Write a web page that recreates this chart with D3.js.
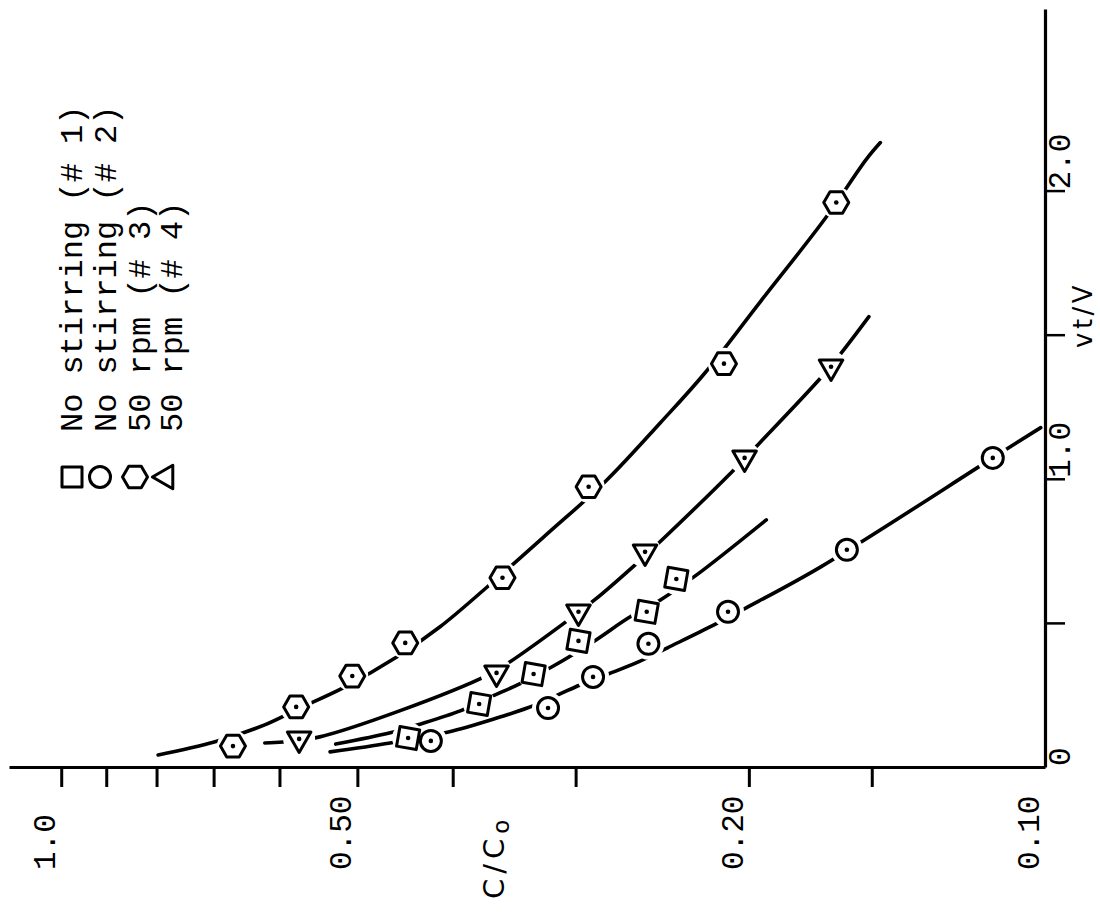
<!DOCTYPE html>
<html>
<head>
<meta charset="utf-8">
<script src="https://cdn.jsdelivr.net/npm/d3@7"></script>
<style>
  html, body { margin: 0; padding: 0; background: #fff; }
  svg { display: block; }
</style>
</head>
<body>
<div id="chart"></div>
<script>
// values: vt/V and C/Co
const seriesNames = ["No stirring (# 1)", "No stirring (# 2)", "50 rpm (# 3)", "50 rpm (# 4)"];

// # 1 no stirring, squares
const sqVt = [0.104, 0.222, 0.326, 0.441, 0.542, 0.656];
const sqC  = [0.444, 0.376, 0.331, 0.298, 0.254, 0.237];
const sqFitVt = [0.083, 0.122, 0.149, 0.198, 0.250, 0.292, 0.354, 0.441, 0.521, 0.583, 0.670, 0.861];
const sqFitC  = [0.526, 0.463, 0.435, 0.393, 0.364, 0.342, 0.316, 0.287, 0.265, 0.246, 0.226, 0.192];

// # 2 no stirring, circles
const ciVt = [0.094, 0.208, 0.316, 0.431, 0.542, 0.757, 1.076];
const ciC  = [0.421, 0.320, 0.288, 0.253, 0.210, 0.159, 0.113];
const ciFitVt = [0.056, 0.087, 0.125, 0.177, 0.208, 0.253, 0.288, 0.326, 0.368, 0.417, 0.493, 0.549, 0.698, 1.076, 1.181];
const ciFitC  = [0.533, 0.463, 0.404, 0.358, 0.336, 0.313, 0.297, 0.278, 0.259, 0.242, 0.218, 0.203, 0.169, 0.113, 0.101];

// # 3 50 rpm, hexagons
const hxVt = [0.076, 0.212, 0.319, 0.434, 0.660, 0.976, 1.403, 1.962];
const hxC  = [0.669, 0.577, 0.506, 0.447, 0.356, 0.291, 0.212, 0.163];
const hxFitVt = [0.045, 0.090, 0.149, 0.208, 0.278, 0.385, 0.490, 0.628, 0.819, 0.993, 1.198, 1.368, 1.615, 1.910, 2.111, 2.170];
const hxFitC  = [0.797, 0.699, 0.622, 0.572, 0.517, 0.456, 0.412, 0.369, 0.319, 0.280, 0.246, 0.222, 0.195, 0.167, 0.152, 0.147];

// # 4 50 rpm, triangles
const trVt = [0.101, 0.330, 0.542, 0.750, 1.076, 1.392];
const trC  = [0.573, 0.361, 0.298, 0.255, 0.202, 0.165];
const trFitVt = [0.087, 0.090, 0.108, 0.198, 0.323, 0.365, 0.514, 0.583, 0.705, 0.792, 1.028, 1.128, 1.354, 1.441, 1.566];
const trFitC  = [0.621, 0.595, 0.546, 0.453, 0.368, 0.351, 0.305, 0.287, 0.261, 0.245, 0.208, 0.195, 0.169, 0.161, 0.151];

// axes
const cTicks = [1.0, 0.9, 0.8, 0.7, 0.6, 0.5, 0.4, 0.3, 0.2, 0.15];
const cLabelValues = [1.0, 0.5, 0.2, 0.1];
const cLabels = ["1.0", "0.50", "0.20", "0.10"];
const vtTicks = [0.5, 1.0, 1.5, 2.0];
const vtLabelValues = [0, 1.0, 2.0];
const vtLabels = ["0", "1.0", "2.0"];

const W = 1100, H = 913;
const mono = "'Liberation Mono', 'Courier New', monospace";
const sans = "'DejaVu Sans', sans-serif";

const svg = d3.select("#chart").append("svg")
  .attr("width", W)
  .attr("height", H);

svg.append("rect").attr("width", W).attr("height", H).attr("fill", "#fff");

// the scan is turned a quarter turn: draw the plot upright, then rotate it
const g = svg.append("g")
  .attr("transform", `translate(0, ${H}) rotate(-90)`);

const x = d3.scaleLinear().domain([0, 2.63]).range([145, 903]);
const y = d3.scaleLog().domain([1.13, 0.1]).range([9, 1045]);

// C/Co axis (log)
const yAxis = g.append("g")
  .attr("transform", `translate(${x(0)}, 0)`)
  .call(d3.axisLeft(y).tickValues(cTicks).tickSize(19).tickSizeOuter(0).tickFormat(""));
yAxis.select(".domain").attr("stroke-width", 3.2);
yAxis.selectAll(".tick line").attr("stroke-width", 3);

// vt/V axis
const xAxis = g.append("g")
  .attr("transform", `translate(0, ${y(0.1)})`)
  .call(d3.axisBottom(x).tickValues(vtTicks).tickSize(20).tickSizeOuter(0).tickFormat(""));
xAxis.select(".domain").attr("stroke-width", 3.2);
xAxis.selectAll(".tick line").attr("stroke-width", 2.5);

g.append("g")
  .attr("font-family", mono)
  .attr("font-size", 31)
  .selectAll("text")
  .data(cLabelValues)
  .join("text")
    .attr("x", 43)
    .attr("y", d => y(d) - 6)
    .text((d, i) => cLabels[i]);

g.append("g")
  .attr("font-family", mono)
  .attr("font-size", 31)
  .selectAll("text")
  .data(vtLabelValues)
  .join("text")
    .attr("x", d => x(d) + 2)
    .attr("y", 1070)
    .text((d, i) => vtLabels[i]);

// axis titles
const cTitle = g.append("text")
  .attr("x", 14)
  .attr("y", 504)
  .attr("font-family", sans)
  .attr("font-size", 29)
  .attr("letter-spacing", 5)
  .text("C/C");
cTitle.append("tspan").attr("dy", 5).attr("font-size", 23).text("o");

g.append("text")
  .attr("x", 565)
  .attr("y", 1092)
  .attr("font-family", sans)
  .attr("font-size", 26)
  .attr("letter-spacing", 3.5)
  .text("vt/V");

// fitted curves
const line = d3.line()
  .x(d => x(d[0]))
  .y(d => y(d[1]))
  .curve(d3.curveCatmullRom.alpha(0.5));

const fits = [
  d3.zip(sqFitVt, sqFitC),
  d3.zip(ciFitVt, ciFitC),
  d3.zip(hxFitVt, hxFitC),
  d3.zip(trFitVt, trFitC)
];

g.append("g")
  .attr("fill", "none")
  .attr("stroke", "#000")
  .attr("stroke-width", 3.6)
  .attr("stroke-linecap", "round")
  .selectAll("path")
  .data(fits)
  .join("path")
    .attr("d", line);

// marker shapes
function hexPath(r) {
  const pts = d3.range(6).map(k => {
    const a = (-90 + 60 * k) * Math.PI / 180;
    return [r * Math.cos(a), r * Math.sin(a)];
  });
  return "M" + pts.map(p => p.join(",")).join("L") + "Z";
}
const shapes = [
  {path: d3.symbol(d3.symbolSquare, 400)(), rot: 10, legendRot: 0},
  {path: d3.symbol(d3.symbolCircle, Math.PI * 10.5 * 10.5)(), rot: 0, legendRot: 0},
  {path: hexPath(12.5), rot: 0, legendRot: 0},
  {path: d3.symbol(d3.symbolTriangle, 240)(), rot: -90, legendRot: 0}
];

const points = [
  d3.zip(sqVt, sqC),
  d3.zip(ciVt, ciC),
  d3.zip(hxVt, hxC),
  d3.zip(trVt, trC)
].flatMap((pts, s) => pts.map(p => ({s: s, vt: p[0], c: p[1]})));

// white gaps in the curves around each marker
g.append("g")
  .selectAll("circle")
  .data(points)
  .join("circle")
    .attr("cx", d => x(d.vt))
    .attr("cy", d => y(d.c))
    .attr("r", 16)
    .attr("fill", "#fff");

const marks = g.append("g")
  .selectAll("g")
  .data(points)
  .join("g")
    .attr("transform", d => `translate(${x(d.vt)}, ${y(d.c)})`);

marks.append("path")
  .attr("d", d => shapes[d.s].path)
  .attr("transform", d => `rotate(${shapes[d.s].rot})`)
  .attr("fill", "#fff")
  .attr("stroke", "#000")
  .attr("stroke-width", 3)
  .attr("stroke-linejoin", "round");

marks.append("circle")
  .attr("r", 2.3)
  .attr("fill", "#000");

// legend
const legendSymY = [72, 100, 135, 166];
const legendTextY = [82, 116, 150, 182];

const legend = g.append("g");
legend.selectAll("path")
  .data(seriesNames)
  .join("path")
    .attr("d", (d, i) => shapes[i].path)
    .attr("transform", (d, i) => `translate(436, ${legendSymY[i]}) rotate(${shapes[i].legendRot})`)
    .attr("fill", "#fff")
    .attr("stroke", "#000")
    .attr("stroke-width", 3)
    .attr("stroke-linejoin", "round");

legend.selectAll("text")
  .data(seriesNames)
  .join("text")
    .attr("x", 481)
    .attr("y", (d, i) => legendTextY[i])
    .attr("font-family", mono)
    .attr("font-size", 32)
    .attr("xml:space", "preserve")
    .style("white-space", "pre")
    .text(d => d);
</script>
</body>
</html>
